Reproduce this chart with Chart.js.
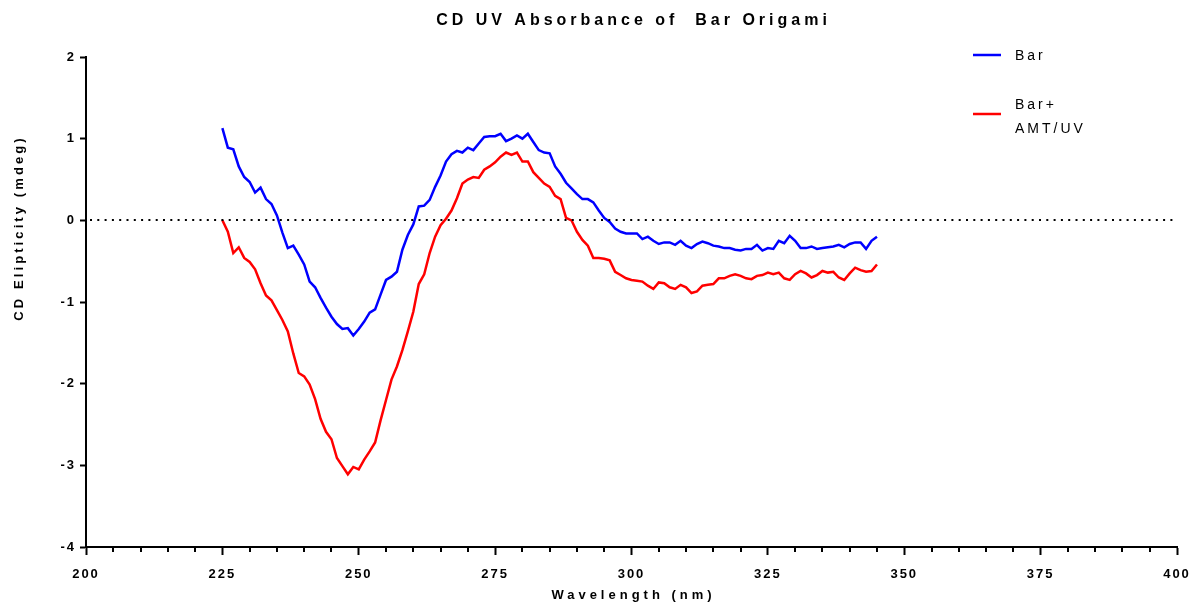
<!DOCTYPE html>
<html>
<head>
<meta charset="utf-8">
<script src="https://cdn.jsdelivr.net/npm/chart.js@4.4.1/dist/chart.umd.min.js"></script>
<style>
  html, body { margin: 0; padding: 0; background: #fff; }
  #wrap { width: 1192px; height: 602px; }
</style>
</head>
<body>
<div id="wrap"><canvas id="cdChart"></canvas></div>
<script>
// wavelength (nm), one reading per nm
const wavelengths = [
  225, 226, 227, 228, 229, 230, 231, 232, 233, 234, 235, 236, 237, 238, 239, 240,
  241, 242, 243, 244, 245, 246, 247, 248, 249, 250, 251, 252, 253, 254, 255, 256,
  257, 258, 259, 260, 261, 262, 263, 264, 265, 266, 267, 268, 269, 270, 271, 272,
  273, 274, 275, 276, 277, 278, 279, 280, 281, 282, 283, 284, 285, 286, 287, 288,
  289, 290, 291, 292, 293, 294, 295, 296, 297, 298, 299, 300, 301, 302, 303, 304,
  305, 306, 307, 308, 309, 310, 311, 312, 313, 314, 315, 316, 317, 318, 319, 320,
  321, 322, 323, 324, 325, 326, 327, 328, 329, 330, 331, 332, 333, 334, 335, 336,
  337, 338, 339, 340, 341, 342, 343, 344, 345
];

// CD ellipticity (mdeg)
const bar = [
  1.13, 0.89, 0.87, 0.66, 0.53, 0.47, 0.34, 0.40, 0.26, 0.20, 0.06, -0.15, -0.34, -0.31, -0.42, -0.54,
  -0.75, -0.82, -0.95, -1.07, -1.18, -1.27, -1.33, -1.32, -1.41, -1.33, -1.24, -1.13, -1.09, -0.91, -0.73, -0.69,
  -0.63, -0.36, -0.18, -0.05, 0.17, 0.18, 0.25, 0.41, 0.55, 0.72, 0.81, 0.85, 0.83, 0.89, 0.86, 0.94,
  1.02, 1.03, 1.03, 1.06, 0.97, 1.00, 1.04, 1.00, 1.06, 0.96, 0.86, 0.83, 0.82, 0.66, 0.57, 0.46,
  0.39, 0.32, 0.26, 0.26, 0.22, 0.12, 0.03, -0.02, -0.10, -0.14, -0.16, -0.16, -0.16, -0.23, -0.20, -0.25,
  -0.29, -0.27, -0.27, -0.30, -0.25, -0.31, -0.34, -0.29, -0.26, -0.28, -0.31, -0.32, -0.34, -0.34, -0.36, -0.37,
  -0.35, -0.35, -0.30, -0.37, -0.34, -0.35, -0.25, -0.28, -0.19, -0.25, -0.34, -0.34, -0.32, -0.35, -0.34, -0.33,
  -0.32, -0.30, -0.33, -0.29, -0.27, -0.27, -0.35, -0.25, -0.20
];

const barAmtUv = [
  0.00, -0.14, -0.40, -0.33, -0.46, -0.51, -0.60, -0.77, -0.92, -0.98, -1.10, -1.22, -1.36, -1.63, -1.87, -1.91,
  -2.01, -2.19, -2.43, -2.59, -2.68, -2.91, -3.01, -3.11, -3.02, -3.05, -2.93, -2.83, -2.72, -2.45, -2.20, -1.95,
  -1.79, -1.59, -1.36, -1.12, -0.78, -0.66, -0.40, -0.20, -0.06, 0.02, 0.12, 0.27, 0.45, 0.50, 0.53, 0.52,
  0.62, 0.66, 0.71, 0.78, 0.83, 0.80, 0.83, 0.72, 0.72, 0.59, 0.52, 0.45, 0.41, 0.30, 0.26, 0.03,
  0.00, -0.14, -0.24, -0.31, -0.46, -0.46, -0.47, -0.49, -0.63, -0.67, -0.71, -0.73, -0.74, -0.75, -0.80, -0.84,
  -0.76, -0.77, -0.82, -0.84, -0.79, -0.82, -0.89, -0.87, -0.80, -0.79, -0.78, -0.71, -0.71, -0.68, -0.66, -0.68,
  -0.71, -0.72, -0.68, -0.67, -0.64, -0.66, -0.64, -0.71, -0.73, -0.66, -0.62, -0.65, -0.70, -0.67, -0.62, -0.64,
  -0.63, -0.70, -0.73, -0.65, -0.58, -0.61, -0.63, -0.62, -0.54
];

const seriesLabels = [["Bar"], ["Bar+", "AMT/UV"]];
const seriesColors = ["#0000ff", "#ff0000"];
const titleText = "CD UV Absorbance of  Bar Origami";
const xTitle = "Wavelength (nm)";
const yTitle = "CD Elipticity (mdeg)";

const FONT = "'Liberation Sans', Arial, sans-serif";

function points(ys) {
  return wavelengths.map((w, i) => ({ x: w, y: ys[i] }));
}

// titles, legend, dotted zero line and minor ticks
const extras = {
  id: 'extras',
  beforeUpdate(chart) { chart.ctx.letterSpacing = '2px'; },
  beforeDraw(chart) { chart.ctx.letterSpacing = '2px'; },
  afterDraw(chart) {
    const ctx = chart.ctx;
    const xs = chart.scales.x, ys = chart.scales.y;
    const area = chart.chartArea;
    ctx.save();

    // dotted baseline at 0
    ctx.strokeStyle = '#000';
    ctx.lineWidth = 2;
    ctx.setLineDash([2, 5.3]);
    const y0 = Math.round(ys.getPixelForValue(0));
    ctx.beginPath();
    ctx.moveTo(area.left + 4, y0);
    ctx.lineTo(area.right, y0);
    ctx.stroke();
    ctx.setLineDash([]);

    // minor x ticks every 5 nm
    ctx.lineWidth = 2;
    for (let v = 205; v < 400; v += 5) {
      if (v % 25 === 0) continue;
      const px = Math.round(xs.getPixelForValue(v));
      ctx.beginPath();
      ctx.moveTo(px, area.bottom);
      ctx.lineTo(px, area.bottom + 5);
      ctx.stroke();
    }

    ctx.fillStyle = '#000';
    ctx.textBaseline = 'middle';
    const cx = (area.left + area.right) / 2;

    // title
    ctx.letterSpacing = '4px';
    ctx.font = 'bold 16px ' + FONT;
    ctx.textAlign = 'center';
    ctx.fillText(titleText, cx + 2, 21);

    // axis titles
    ctx.letterSpacing = '4px';
    ctx.font = 'bold 13px ' + FONT;
    ctx.fillText(xTitle, cx + 2, 595);
    ctx.letterSpacing = '3.1px';
    ctx.save();
    ctx.translate(19, 228);
    ctx.rotate(-Math.PI / 2);
    ctx.fillText(yTitle, 0, 0);
    ctx.restore();

    // legend
    ctx.letterSpacing = '3px';
    ctx.font = '14px ' + FONT;
    ctx.textAlign = 'left';
    const rows = [55, 114];
    seriesLabels.forEach((lines, i) => {
      const ly = rows[i];
      ctx.strokeStyle = seriesColors[i];
      ctx.lineWidth = 2.5;
      ctx.beginPath();
      ctx.moveTo(973, ly);
      ctx.lineTo(1001, ly);
      ctx.stroke();
      const start = ly + 1 - (lines.length - 1) * 10;
      lines.forEach((t, j) => ctx.fillText(t, 1015, start + j * 24));
    });

    ctx.restore();
  }
};

new Chart(document.getElementById('cdChart'), {
  type: 'line',
  data: {
    datasets: [
      {
        label: seriesLabels[0].join(' '),
        data: points(bar),
        borderColor: seriesColors[0],
        borderWidth: 2.5,
        pointRadius: 0,
        tension: 0,
        fill: false
      },
      {
        label: seriesLabels[1].join(' '),
        data: points(barAmtUv),
        borderColor: seriesColors[1],
        borderWidth: 2.5,
        pointRadius: 0,
        tension: 0,
        fill: false
      }
    ]
  },
  options: {
    responsive: true,
    maintainAspectRatio: false,
    animation: false,
    layout: {
      autoPadding: false,
      padding: { left: 0, right: 15, top: 57, bottom: 0 }
    },
    plugins: {
      legend: { display: false },
      title: { display: false },
      tooltip: { enabled: false }
    },
    scales: {
      x: {
        type: 'linear',
        min: 200,
        max: 400,
        afterFit(scale) {
          scale.height = 55;
          scale.paddingLeft = 0;
          scale.paddingRight = 0;
        },
        ticks: {
          stepSize: 25,
          autoSkip: false,
          maxRotation: 0,
          padding: 12,
          color: '#000',
          font: { family: FONT, size: 13, weight: 'bold' }
        },
        grid: {
          drawOnChartArea: false,
          tickLength: 8,
          tickWidth: 2,
          tickColor: '#000'
        },
        border: { color: '#000', width: 2 }
      },
      y: {
        min: -4,
        max: 2,
        afterFit(scale) { scale.width = 86; },
        ticks: {
          stepSize: 1,
          padding: 4,
          color: '#000',
          font: { family: FONT, size: 13, weight: 'bold' }
        },
        grid: {
          drawOnChartArea: false,
          tickLength: 6,
          tickWidth: 2,
          tickColor: '#000'
        },
        border: { color: '#000', width: 2 }
      }
    }
  },
  plugins: [extras]
});
</script>
</body>
</html>
